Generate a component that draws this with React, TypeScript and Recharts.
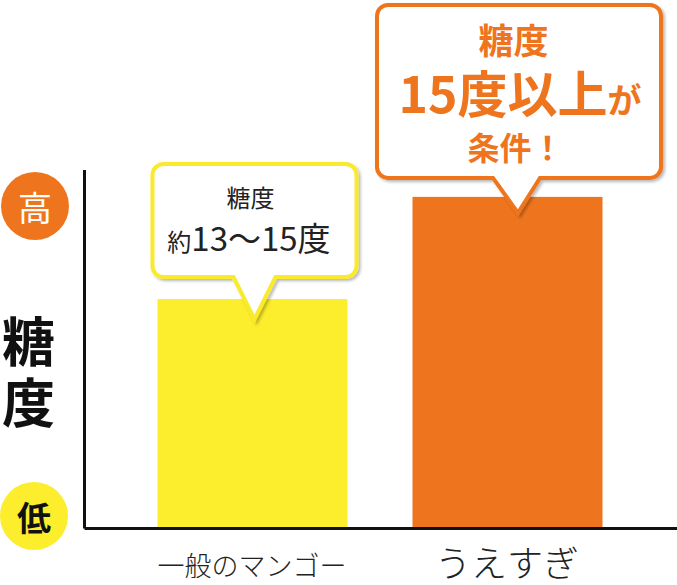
import React from 'react';
import { BarChart, Bar, XAxis, YAxis } from 'recharts';

// ---- data ----
const categories = ['一般のマンゴー', 'うえすぎ'];
const sugarLevels = [64, 92.5];
const barColors = ['#FCEE2C', '#EE751E'];
const yLevelLabels = ['高', '低'];
const yAxisTitle = ['糖', '度'];
const calloutHeads = ['糖度', '糖度'];
const calloutMain = [
  ['約', '13〜15度'],
  ['15度以上', 'が'],
];
const calloutTails = ['', '条件！'];

const rows = categories.map((name, i) => ({
  name,
  value: sugarLevels[i],
  color: barColors[i],
  head: calloutHeads[i],
  main: calloutMain[i],
  tail: calloutTails[i],
}));

// ---- styles ----
const FONT = '"Noto Sans CJK JP", "Noto Sans", sans-serif';
const tickSizes = [27, 36];
const tickOffsets = [36, 32];
const calloutStyles = [
  {
    box: { l: -100, r: 104, t: -135, b: -22 },
    ptr: { pl: -19, pr: 23, tx: 2, ty: 20 },
    stroke: '#FAEA2E',
    color: '#222',
    weight: 400,
    head: { dx: -2, by: -92, size: 24 },
    main: { dx: -3.5, by: -48, sizes: [24, 33] },
    tail: { dx: 0, by: 0, size: 0 },
  },
  {
    box: { l: -130.5, r: 153.5, t: -192, b: -19 },
    ptr: { pl: -14.5, pr: 32.5, tx: 10.5, ty: 16 },
    stroke: '#EE751E',
    color: '#EE751E',
    weight: 700,
    head: { dx: 6, by: -143, size: 35 },
    main: { dx: 12.5, by: -84, sizes: [50, 34] },
    tail: { dx: 8, by: -37, size: 32 },
  },
];

function calloutPath(l: number, t: number, r: number, b: number, pl: number, pr: number, tx: number, ty: number, rad: number) {
  return [
    `M${l + rad},${t}`,
    `H${r - rad}`,
    `A${rad},${rad} 0 0 1 ${r},${t + rad}`,
    `V${b - rad}`,
    `A${rad},${rad} 0 0 1 ${r - rad},${b}`,
    `H${pr}`,
    `L${tx},${ty}`,
    `L${pl},${b}`,
    `H${l + rad}`,
    `A${rad},${rad} 0 0 1 ${l},${b - rad}`,
    `V${t + rad}`,
    `A${rad},${rad} 0 0 1 ${l + rad},${t}`,
    'Z',
  ].join(' ');
}

const BarWithCallout = (props: any) => {
  const { x, y, width, height, payload } = props;
  const i = categories.indexOf(payload?.name);
  const st = calloutStyles[i] || calloutStyles[0];
  const cx = x + width / 2;
  const top = y;
  const d = calloutPath(
    cx + st.box.l,
    top + st.box.t,
    cx + st.box.r,
    top + st.box.b,
    cx + st.ptr.pl,
    cx + st.ptr.pr,
    cx + st.ptr.tx,
    top + st.ptr.ty,
    11
  );
  const fid = `shadow-${i}`;
  return (
    <g>
      <defs>
        <filter id={fid} x="-10%" y="-10%" width="130%" height="130%">
          <feDropShadow dx="2" dy="2" stdDeviation="1.5" floodColor="#000" floodOpacity="0.28" />
        </filter>
      </defs>
      <rect x={x} y={y} width={width} height={height} fill={payload.color} />
      <path d={d} fill="#fff" stroke={st.stroke} strokeWidth={4} filter={`url(#${fid})`} />
      <text
        x={cx + st.head.dx}
        y={top + st.head.by}
        textAnchor="middle"
        fontFamily={FONT}
        fontWeight={st.weight}
        fontSize={st.head.size}
        fill={st.color}
      >
        {payload.head}
      </text>
      <text
        x={cx + st.main.dx}
        y={top + st.main.by}
        textAnchor="middle"
        fontFamily={FONT}
        fontWeight={st.weight}
        fill={st.color}
      >
        <tspan fontSize={st.main.sizes[0]}>{payload.main[0]}</tspan>
        <tspan fontSize={st.main.sizes[1]}>{payload.main[1]}</tspan>
      </text>
      {payload.tail ? (
        <text
          x={cx + st.tail.dx}
          y={top + st.tail.by}
          textAnchor="middle"
          fontFamily={FONT}
          fontWeight={st.weight}
          fontSize={st.tail.size}
          fill={st.color}
        >
          {payload.tail}
        </text>
      ) : null}
    </g>
  );
};

const CategoryTick = (props: any) => {
  const { x, y, payload, index } = props;
  const i = typeof index === 'number' ? index : categories.indexOf(payload.value);
  return (
    <text
      x={x}
      y={y + (tickOffsets[i] ?? 36)}
      textAnchor="middle"
      dominantBaseline="central"
      fontFamily={FONT}
      fontWeight={300}
      fontSize={tickSizes[i] || 27}
      fill="#222"
    >
      {payload.value}
    </text>
  );
};

const LeftDecor = (props: any) => {
  const vb = props.viewBox || { x: 0, y: 170, width: 84.5, height: 358.5 };
  const top = vb.y;
  const bottom = vb.y + vb.height;
  return (
    <g>
      <circle cx={35} cy={top + 36} r={34} fill={barColors[1]} />
      <text
        x={35}
        y={top + 36}
        textAnchor="middle"
        dominantBaseline="central"
        fontFamily={FONT}
        fontWeight={400}
        fontSize={34}
        fill="#fff"
      >
        {yLevelLabels[0]}
      </text>
      <circle cx={34} cy={bottom - 12.5} r={34} fill={barColors[0]} />
      <text
        x={34}
        y={bottom - 12.5}
        textAnchor="middle"
        dominantBaseline="central"
        fontFamily={FONT}
        fontWeight={700}
        fontSize={34}
        fill="#111"
      >
        {yLevelLabels[1]}
      </text>
      {yAxisTitle.map((ch, k) => (
        <text
          key={ch}
          x={28.5}
          y={top + 169 + k * 61}
          textAnchor="middle"
          dominantBaseline="central"
          fontFamily={FONT}
          fontWeight={700}
          fontSize={53}
          fill="#111"
        >
          {ch}
        </text>
      ))}
    </g>
  );
};

export default function App() {
  return (
    <div style={{ position: 'absolute', left: 0, top: 0, width: 677, height: 585, background: '#fff' }}>
      <BarChart
        width={677}
        height={585}
        data={rows}
        margin={{ top: 170, right: 0, bottom: 0, left: 0 }}
        barSize={190}
      >
        <YAxis
          type="number"
          domain={[0, 100]}
          width={84.5}
          tick={false}
          tickLine={false}
          axisLine={{ stroke: '#111', strokeWidth: 3 }}
          label={<LeftDecor />}
        />
        <Bar dataKey="value" isAnimationActive={false} shape={<BarWithCallout />} />
        <XAxis
          dataKey="name"
          height={56.5}
          padding={{ left: 40, right: 42.5 }}
          tickLine={false}
          tickSize={0}
          tickMargin={0}
          axisLine={{ stroke: '#111', strokeWidth: 3 }}
          tick={<CategoryTick />}
          interval={0}
        />
      </BarChart>
    </div>
  );
}
